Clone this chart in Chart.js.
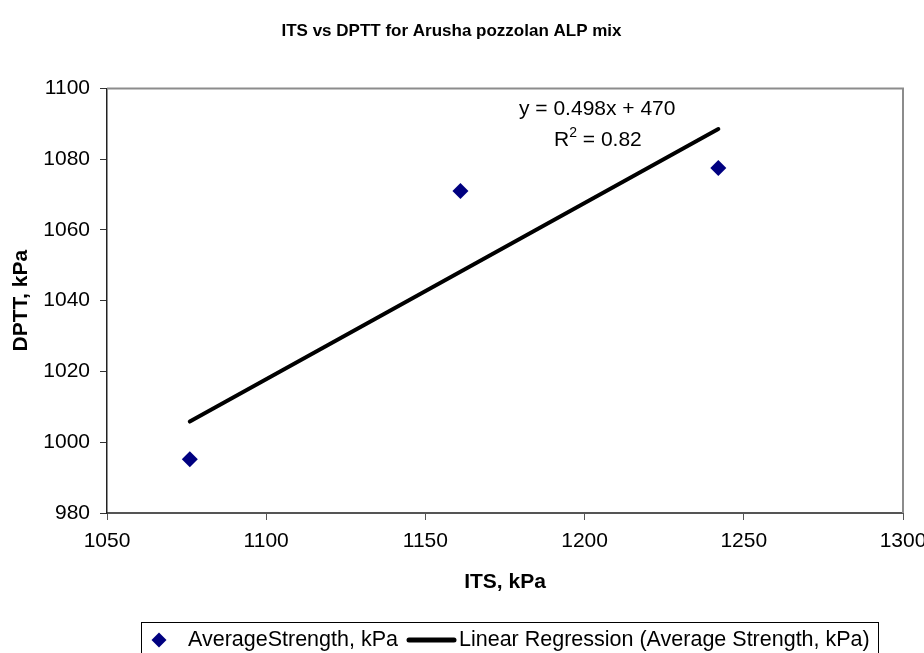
<!DOCTYPE html>
<html>
<head>
<meta charset="utf-8">
<script src="https://cdn.jsdelivr.net/npm/chart.js@4.4.1/dist/chart.umd.min.js"></script>
<style>
  html, body { margin: 0; padding: 0; background: #fff; }
  #wrap { width: 924px; height: 653px; position: relative; }
</style>
</head>
<body>
<div id="wrap"><canvas id="c" width="924" height="653"></canvas></div>
<script>
// ---- data ----
const itsValues = [1076, 1161, 1242];
const dpttValues = [995.2, 1071, 1077.5];
const trendSlope = 0.498;
const trendIntercept = 470;
const trendXRange = [1076, 1242];
const xTicks = [1050, 1100, 1150, 1200, 1250, 1300];
const yTicks = [980, 1000, 1020, 1040, 1060, 1080, 1100];
const chartTitle = 'ITS vs DPTT for Arusha pozzolan ALP mix';
const xTitle = 'ITS, kPa';
const yTitle = 'DPTT, kPa';
const seriesLabels = ['AverageStrength, kPa', 'Linear Regression (Average Strength, kPa)'];
const eqText = 'y = 0.498x + 470';
const r2Value = '0.82';

const FONT = '"Liberation Sans", Arial, sans-serif';
const scatterPts = itsValues.map((x, i) => ({x, y: dpttValues[i]}));
const trendPts = trendXRange.map(x => ({x, y: trendSlope * x + trendIntercept}));

const decor = {
  id: 'decor',
  beforeDatasetsDraw(chart) {
    const {ctx, chartArea: a} = chart;
    ctx.save();
    ctx.strokeStyle = '#8c8c8c';
    ctx.lineWidth = 2;
    ctx.beginPath();
    ctx.moveTo(a.left, a.top);
    ctx.lineTo(a.right, a.top);
    ctx.lineTo(a.right, a.bottom);
    ctx.stroke();
    ctx.restore();
  },
  afterDraw(chart) {
    const {ctx} = chart;
    ctx.save();
    // equation annotation
    ctx.fillStyle = '#000';
    ctx.textBaseline = 'middle';
    ctx.textAlign = 'left';
    ctx.font = '21px ' + FONT;
    ctx.fillText(eqText, 519, 109);
    let x = 554;
    ctx.fillText('R', x, 140);
    x += ctx.measureText('R').width;
    ctx.font = '14px ' + FONT;
    ctx.fillText('2', x, 133);
    x += ctx.measureText('2').width;
    ctx.font = '21px ' + FONT;
    ctx.fillText(' = ' + r2Value, x, 140);

    // legend
    ctx.strokeStyle = '#000';
    ctx.lineWidth = 1;
    ctx.strokeRect(141.5, 622.5, 737, 31);
    const ly = 640;
    ctx.fillStyle = '#000080';
    ctx.beginPath();
    ctx.moveTo(159 - 7.5, ly);
    ctx.lineTo(159, ly - 7.5);
    ctx.lineTo(159 + 7.5, ly);
    ctx.lineTo(159, ly + 7.5);
    ctx.closePath();
    ctx.fill();
    ctx.fillStyle = '#000';
    ctx.font = '21.5px ' + FONT;
    ctx.fillText(seriesLabels[0], 188, ly);
    ctx.strokeStyle = '#000';
    ctx.lineWidth = 5;
    ctx.lineCap = 'round';
    ctx.beginPath();
    ctx.moveTo(409, ly);
    ctx.lineTo(454, ly);
    ctx.stroke();
    ctx.fillText(seriesLabels[1], 459, ly);
    ctx.restore();
  }
};

new Chart(document.getElementById('c'), {
  type: 'scatter',
  data: {
    datasets: [
      {
        label: seriesLabels[0],
        data: scatterPts,
        pointStyle: 'rectRot',
        pointRadius: 8,
        pointHoverRadius: 8,
        backgroundColor: '#000080',
        borderColor: '#000080',
        borderWidth: 0,
        order: 2
      },
      {
        type: 'line',
        label: seriesLabels[1],
        data: trendPts,
        borderColor: '#000',
        borderWidth: 4,
        borderCapStyle: 'round',
        pointRadius: 0,
        fill: false,
        tension: 0,
        order: 1
      }
    ]
  },
  options: {
    responsive: false,
    animation: false,
    events: [],
    layout: { padding: { left: 0, right: 21, top: 0, bottom: 56 } },
    plugins: {
      legend: { display: false },
      tooltip: { enabled: false },
      title: {
        display: true,
        text: chartTitle,
        color: '#000',
        font: { family: FONT, size: 17, weight: 'bold' },
        padding: { top: 21, bottom: 47 }
      }
    },
    scales: {
      x: {
        type: 'linear',
        min: 1050, max: 1300,
        afterBuildTicks: s => { s.ticks = xTicks.map(v => ({value: v})); },
        afterFit: s => { s.height = 84; s.paddingRight = 21; s.paddingLeft = 0; },
        ticks: { color: '#000', font: { family: FONT, size: 21 }, padding: 9, maxRotation: 0, callback: v => String(v) },
        grid: { drawOnChartArea: false, drawTicks: true, tickLength: 7, color: '#555', lineWidth: 1 },
        border: { display: true, color: '#555', width: 2 },
        title: { display: true, text: xTitle, color: '#000', font: { family: FONT, size: 21, weight: 'bold' }, padding: { top: 0, bottom: 2 } }
      },
      y: {
        type: 'linear',
        min: 980, max: 1100,
        afterBuildTicks: s => { s.ticks = yTicks.map(v => ({value: v})); },
        afterFit: s => { s.width = 107; },
        ticks: { color: '#000', font: { family: FONT, size: 21 }, padding: 10, callback: v => String(v) },
        grid: { drawOnChartArea: false, drawTicks: true, tickLength: 7, color: '#333', lineWidth: 1 },
        border: { display: true, color: '#222', width: 1.5 },
        title: { display: true, text: yTitle, color: '#000', font: { family: FONT, size: 21, weight: 'bold' }, padding: { top: 9, bottom: 0 } }
      }
    }
  },
  plugins: [decor]
});
</script>
</body>
</html>
